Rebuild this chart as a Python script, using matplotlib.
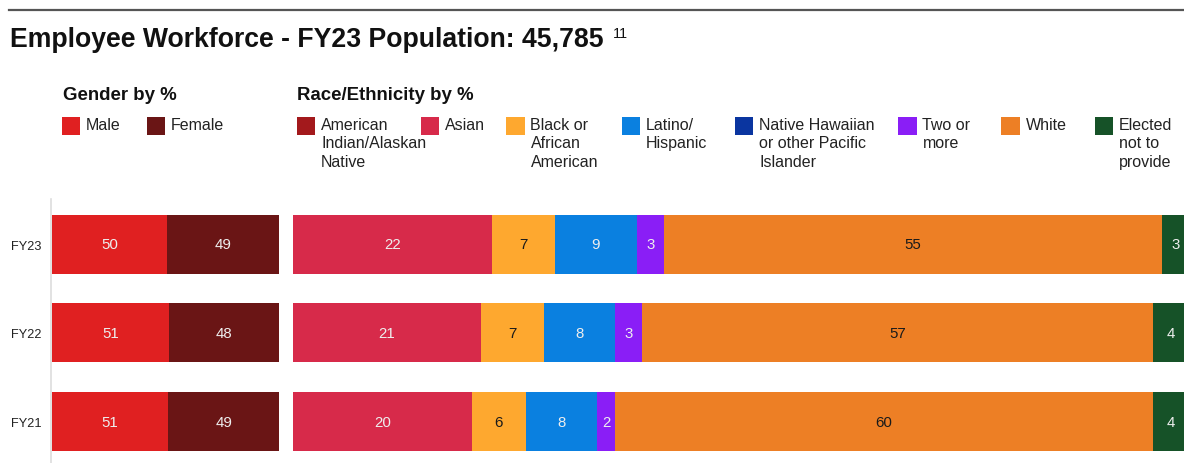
import numpy as np
import matplotlib
matplotlib.use("Agg")
import matplotlib.pyplot as plt
from matplotlib.patches import Rectangle
from matplotlib.lines import Line2D

plt.rcParams["font.family"] = ["Liberation Sans", "DejaVu Sans"]

# data
years = ["FY23", "FY22", "FY21"]

gender_labels = ["Male", "Female"]
male = [50, 51, 51]
female = [49, 48, 49]

race_labels = ["American\nIndian/Alaskan\nNative", "Asian", "Black or\nAfrican\nAmerican",
               "Latino/\nHispanic", "Native Hawaiian\nor other Pacific\nIslander",
               "Two or\nmore", "White", "Elected\nnot to\nprovide"]
american_indian = [0, 0, 0]
asian = [22, 21, 20]
black = [7, 7, 6]
latino = [9, 8, 8]
native_hawaiian = [0, 0, 0]
two_or_more = [3, 3, 2]
white = [55, 57, 60]
elected = [3, 4, 4]

gender_colors = ["#e02021", "#6a1515"]
race_colors = ["#a3191c", "#d72a4a", "#fea82f", "#0a80e0", "#0a35a0",
               "#8a1ef6", "#ed7f25", "#165228"]
# text on these segments is dark, the rest is light
dark_text = {"Black or\nAfrican\nAmerican", "White"}

W, H = 1184, 464
fig = plt.figure(figsize=(W / 100, H / 100), dpi=100)


def fx(px):
    return px / W


def fy(py):
    return 1 - py / H


# top rule + title
fig.add_artist(Line2D([fx(9), 1], [fy(11), fy(11)], color="#555555", lw=1.6))
title = fig.text(fx(10), fy(46.7), "Employee Workforce - FY23 Population: 45,785",
                 fontsize=19.2, fontweight="bold", va="baseline", color="#111111")

# panels
row_px = 88.65
top_px = 200
ylim = (-0.51 + (H - top_px) / row_px, -0.51)
bar_h = 59 / row_px

ax_g = fig.add_axes([fx(52), 0, fx(279.3) - fx(52), (H - top_px) / H])
ax_r = fig.add_axes([fx(292.7), 0, 896 / W, (H - top_px) / H])

ax_g.annotate("11", xy=(1, 1), xycoords=title, xytext=(7, 0),
              textcoords="offset points", va="top", ha="left",
              fontsize=10.5, color="#111111", annotation_clip=False)


def stacked(ax, series, labels, colors):
    vals = np.array(series, dtype=float)
    totals = vals.sum(axis=0)
    shares = vals / totals * 100
    left = np.zeros(len(years))
    y = np.arange(len(years))
    for raw, w, lab, col in zip(vals, shares, labels, colors):
        ax.barh(y, w, left=left, height=bar_h, color=col, linewidth=0)
        tc = "#1a1a1a" if lab in dark_text else "#eeeeee"
        for yi, r, l, ww in zip(y, raw, left, w):
            if r >= 1:
                ax.text(l + ww / 2, yi, f"{r:g}", ha="center", va="center",
                        fontsize=10.8, color=tc)
        left += w
    ax.set_xlim(0, 100)
    ax.set_ylim(*ylim)
    for s in ax.spines.values():
        s.set_visible(False)
    ax.set_xticks([])


stacked(ax_g, [male, female], gender_labels, gender_colors)
stacked(ax_r, [american_indian, asian, black, latino, native_hawaiian,
               two_or_more, white, elected], race_labels, race_colors)

ax_g.set_yticks(range(len(years)))
ax_g.set_yticklabels(years, fontsize=9.2, color="#222222")
ax_g.tick_params(axis="y", length=0, pad=7.4)
ax_r.set_yticks([])

# thin gray baseline to the left of the gender bars
fig.add_artist(Line2D([fx(51.2), fx(51.2)], [fy(200), 0], color="#dddddd", lw=1.2))

# headers and legends
fig.text(fx(62.7), fy(100), "Gender by %", fontsize=13.4, fontweight="bold",
         va="baseline", color="#111111")
fig.text(fx(296.7), fy(100), "Race/Ethnicity by %", fontsize=13.4, fontweight="bold",
         va="baseline", color="#111111")

gender_leg_x = [61.7, 146.7]
race_leg_x = [296.7, 420.7, 506.0, 621.5, 734.6, 898.0, 1001.0, 1094.7]
sw = 18.5
for xs, labs, cols in [(gender_leg_x, gender_labels, gender_colors),
                       (race_leg_x, race_labels, race_colors)]:
    for x, lab, col in zip(xs, labs, cols):
        fig.add_artist(Rectangle((fx(x), fy(117.7 + sw)), sw / W, sw / H,
                                 facecolor=col, edgecolor="none"))
        fig.text(fx(x + 24.5), fy(117.5), lab, fontsize=11.5, va="top", ha="left",
                 linespacing=1.3, color="#222222")

fig.savefig("out.png", dpi=100)
